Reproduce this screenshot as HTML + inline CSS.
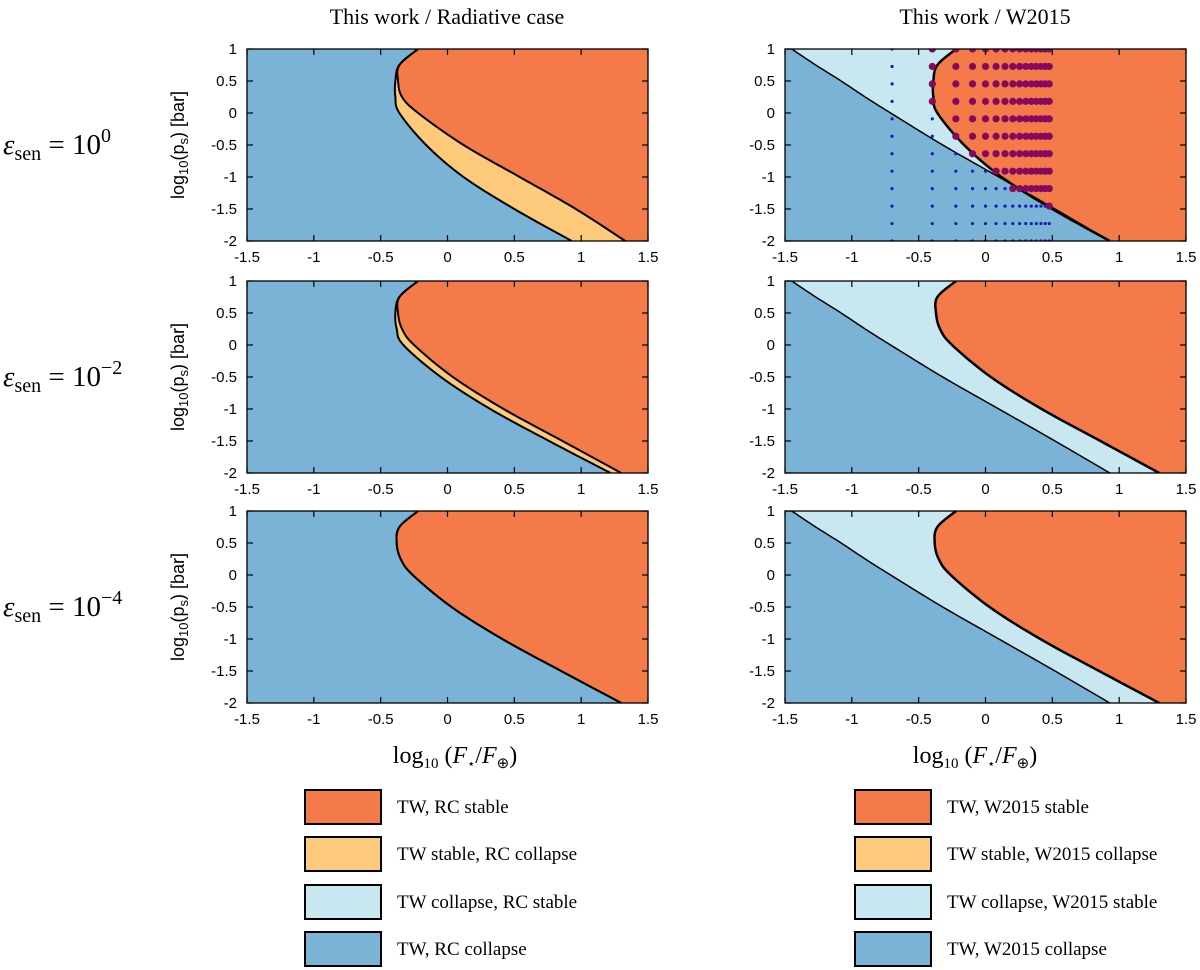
<!DOCTYPE html>
<html><head><meta charset="utf-8"><style>
html,body{margin:0;padding:0;background:#fff;}
svg{display:block;}
.tk{font-family:"Liberation Sans",Arial,sans-serif;fill:#000;}
.sf{font-family:"Liberation Serif",serif;fill:#000;}
</style></head><body>
<svg id="fig" width="1200" height="970" viewBox="0 0 1200 970" xmlns="http://www.w3.org/2000/svg">
<text class="sf" x="447" y="24" font-size="22" text-anchor="middle">This work / Radiative case</text>
<text class="sf" x="985" y="24" font-size="22" text-anchor="middle">This work / W2015</text>
<g id="panels"></g>
<g id="labels"></g>
</svg>
<script>
const NS='http://www.w3.org/2000/svg';
// ---- data ----
const yLevels=[1,0.75,0.5,0.25,0,-0.5,-1,-1.5,-2];
const twL1=[-0.22,-0.36,-0.39,-0.39,-0.36,-0.16,0.12,0.5,0.93];
const rcL1=[-0.22,-0.36,-0.37,-0.34,-0.22,0.12,0.54,0.96,1.33];
const twL2=[-0.22,-0.36,-0.39,-0.38,-0.33,-0.05,0.32,0.76,1.22];
const rcL2=[-0.22,-0.36,-0.37,-0.34,-0.25,0.04,0.42,0.86,1.3];
const twL3=[-0.22,-0.36,-0.38,-0.35,-0.26,0.03,0.41,0.85,1.3];
const rcL3=[-0.22,-0.36,-0.38,-0.35,-0.26,0.03,0.41,0.85,1.3];
const w2015Line=[-1.45,-1.27,-1.08,-0.9,-0.71,-0.32,0.1,0.52,0.93];
const gridFlux=[0.2,0.4,0.6,0.8,1.0,1.2,1.4,1.6,1.8,2.0,2.2,2.4,2.6,2.8,3.0];
const gridLogP=[1,0.7273,0.4545,0.1818,-0.0909,-0.3636,-0.6364,-0.9091,-1.1818,-1.4545,-1.7273,-2];
const stableCount=[14,14,14,14,13,13,12,10,8,1,0,0];
const xTicks=[-1.5,-1,-0.5,0,0.5,1,1.5];
const xTickLabels=['-1.5','-1','-0.5','0','0.5','1','1.5'];
const yTicks=[1,0.5,0,-0.5,-1,-1.5,-2];
const yTickLabels=['1','0.5','0','-0.5','-1','-1.5','-2'];
const C={blue:'#7AB3D5',orange:'#F57A4A',yellow:'#FDCA7C',light:'#C8E7F1',purple:'#850A5E',dot:'#1420B0'};
const W=401,H=192;
const colX=[247,785], rowY=[49,281,511];
function mk(tag,attrs,parent){const e=document.createElementNS(NS,tag);for(const k in attrs)e.setAttribute(k,attrs[k]);if(parent)parent.appendChild(e);return e;}
// smooth curve through data points (Catmull-Rom) in data space
function smooth(arr){
  const pts=arr.map((v,i)=>[v,yLevels[i]]);const out=[];
  for(let i=0;i<pts.length-1;i++){
    const p0=pts[Math.max(0,i-1)],p1=pts[i],p2=pts[i+1],p3=pts[Math.min(pts.length-1,i+2)];
    for(let s=0;s<10;s++){const t=s/10,t2=t*t,t3=t2*t;
      const f=(a,b,c,d)=>0.5*((2*b)+(-a+c)*t+(2*a-5*b+4*c-d)*t2+(-a+3*b-3*c+d)*t3);
      out.push([f(p0[0],p1[0],p2[0],p3[0]),f(p0[1],p1[1],p2[1],p3[1])]);}
  }
  out.push(pts[pts.length-1]);return out;
}
const root=document.getElementById('panels');
function panel(ci,ri,type,tw,rc){
  const x0=colX[ci],y0=rowY[ri];
  const sx=v=>x0+(v+1.5)/3*W, sy=v=>y0+(1-v)/3*H;
  const g=mk('g',{},root);
  
  
  const cid='clip'+ci+ri;
  const cp=mk('clipPath',{id:cid},g);mk('rect',{x:x0,y:y0,width:W,height:H},cp);
  const gg=mk('g',{'clip-path':'url(#'+cid+')'},g);
  const bg=mk('rect',{x:x0,y:y0,width:W,height:H,fill:C.blue},gg);
  
  
  function region(arr,fill,name){
    let pts=smooth(arr).map(p=>sx(p[0])+','+sy(p[1]));
    pts.push(sx(1.6)+','+sy(-2.1));pts.push(sx(1.6)+','+sy(1.1));
    const p=mk('polygon',{points:pts.join(' '),fill:fill},gg);
    
    
  }
  function line(arr,w,name){
    const p=mk('polyline',{points:smooth(arr).map(p=>sx(p[0])+','+sy(p[1])).join(' '),fill:'none',stroke:'#000','stroke-width':w,'stroke-linejoin':'round'},gg);
    
    
  }
  if(type==='L'){
    region(tw,C.yellow,'region-tw-stable-rc-collapse');
    region(rc,C.orange,'region-both-stable');
    line(tw,2,'tw-boundary');line(rc,2,'rc-boundary');
  } else {
    region(w2015Line,C.light,'region-tw-collapse-w2015-stable');
    region(tw,C.orange,'region-both-stable');
    line(w2015Line,1.5,'w2015-boundary');line(tw,2.5,'tw-boundary');
    if(ri===0){
      gridLogP.forEach((lp,r)=>{
        gridFlux.forEach((f,c)=>{
          const st=c>=gridFlux.length-stableCount[r];
          const d=mk('circle',{cx:sx(Math.log10(f)),cy:sy(lp),r:st?3.6:1.6,fill:st?C.purple:C.dot},gg);
          
          
        });
      });
    }
  }
  const fr=mk('rect',{x:x0,y:y0,width:W,height:H,fill:'none',stroke:'#000','stroke-width':1.3},g);
  
  
  xTicks.forEach((t,i)=>{
    const X=sx(t);
    mk('line',{x1:X,y1:y0+H,x2:X,y2:y0+H-6,stroke:'#000','stroke-width':1.2},g);
    mk('line',{x1:X,y1:y0,x2:X,y2:y0+6,stroke:'#000','stroke-width':1.2},g);
    const tx=mk('text',{x:X,y:y0+H+21,'text-anchor':'middle',class:'tk','font-size':15},g);tx.textContent=xTickLabels[i];
    
    
  });
  yTicks.forEach((t,i)=>{
    const Y=sy(t);
    mk('line',{x1:x0,y1:Y,x2:x0+6,y2:Y,stroke:'#000','stroke-width':1.2},g);
    mk('line',{x1:x0+W,y1:Y,x2:x0+W-6,y2:Y,stroke:'#000','stroke-width':1.2},g);
    const tx=mk('text',{x:x0-10,y:Y+5,'text-anchor':'end',class:'tk','font-size':15},g);tx.textContent=yTickLabels[i];
    
    
  });
}
panel(0,0,'L',twL1,rcL1);panel(0,1,'L',twL2,rcL2);panel(0,2,'L',twL3,rcL3);
panel(1,0,'R',twL1,null);panel(1,1,'R',rcL2,null);panel(1,2,'R',rcL3,null);
// labels
const lab=document.getElementById('labels');
const eps=['0','-2','-4'];
const mid=[145,377,607];
eps.forEach((e,i)=>{
  const t=mk('text',{x:3,y:mid[i]+9,class:'sf','font-size':29},lab);
  
  
  t.innerHTML='<tspan font-style="italic">ε</tspan><tspan font-size="20" dy="6">sen</tspan><tspan dy="-6"> = 10</tspan><tspan font-size="20" dy="-12">'+e.replace('-','−')+'</tspan>';
  const y=mk('text',{transform:'translate(184,'+mid[i]+') rotate(-90)','text-anchor':'middle',class:'tk','font-size':18},lab);
  
  
  y.innerHTML='log<tspan font-size="13" dy="4">10</tspan><tspan dy="-4">(p</tspan><tspan font-size="13" dy="4">s</tspan><tspan dy="-4">) [bar]</tspan>';
});
[455,975].forEach(cx=>{
  const t=mk('text',{x:cx,y:763,'text-anchor':'middle',class:'sf','font-size':24},lab);
  
  
  t.innerHTML='log<tspan font-size="15" dy="5">10</tspan><tspan dy="-5"> (</tspan><tspan font-style="italic">F</tspan><tspan font-size="13" dy="5">⋆</tspan><tspan dy="-5">/</tspan><tspan font-style="italic">F</tspan><tspan font-size="15" dy="5">⊕</tspan><tspan dy="-5">)</tspan>';
});
const legL=['TW, RC stable','TW stable, RC collapse','TW collapse, RC stable','TW, RC collapse'];
const legR=['TW, W2015 stable','TW stable, W2015 collapse','TW collapse, W2015 stable','TW, W2015 collapse'];
const legC=[C.orange,C.yellow,C.light,C.blue];
const legY=[790,837,885,932];
[[305,legL],[855,legR]].forEach(([bx,arr])=>{
  arr.forEach((s,i)=>{
    const r=mk('rect',{x:bx,y:legY[i],width:76,height:34,fill:legC[i],stroke:'#000','stroke-width':2},lab);
    
    
    const t=mk('text',{x:bx+92,y:legY[i]+23,class:'sf','font-size':19},lab);
    t.textContent=s;
    
    
  });
});
</script>
</body></html>
